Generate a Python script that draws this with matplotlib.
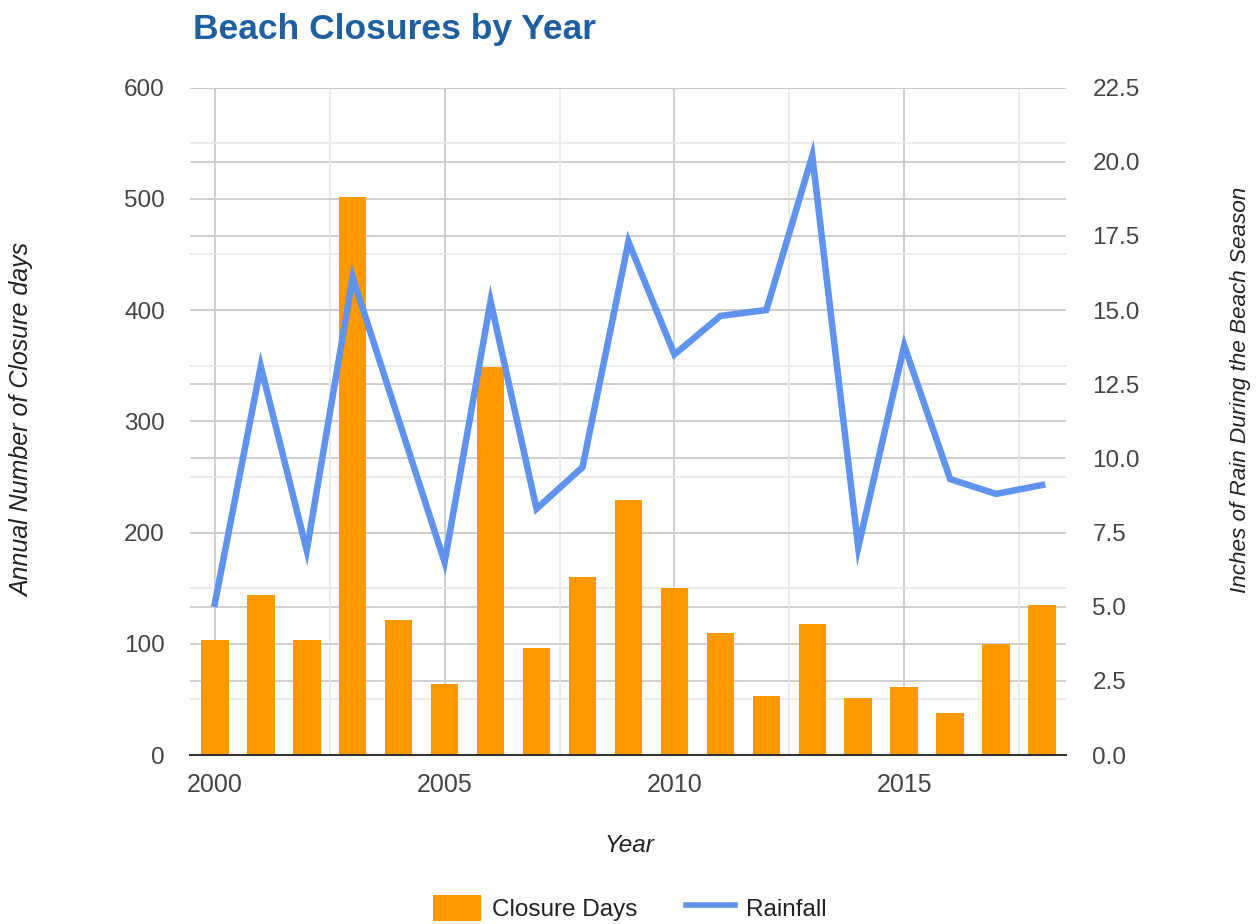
import matplotlib
matplotlib.use("Agg")
import matplotlib.pyplot as plt
from matplotlib.patches import Patch
from matplotlib.lines import Line2D
import numpy as np

years = list(range(2000, 2019))
closure_days = [103, 144, 103, 502, 121, 64, 349, 96, 160, 229,
                150, 110, 53, 118, 51, 61, 38, 100, 135]
rainfall = [5.1, 13.1, 6.9, 16.1, 11.3, 6.5, 15.3, 8.3, 9.7, 17.3,
            13.5, 14.8, 15.0, 20.2, 7.0, 13.8, 9.3, 8.8, 9.1]

left_ticks = list(range(0, 601, 100))
right_ticks = [0.0, 2.5, 5.0, 7.5, 10.0, 12.5, 15.0, 17.5, 20.0, 22.5]
year_ticks = [2000, 2005, 2010, 2015]

ORANGE = "#ff9900"
BLUE = "#5f93ee"
TICK_COL = "#444444"
LABEL_COL = "#222222"
FONT = "Liberation Sans"

plt.rcParams["font.family"] = [FONT, "DejaVu Sans"]

fig = plt.figure(figsize=(12.59, 9.24), dpi=100)
ax = fig.add_axes([0.1509, 0.1829, 0.6958, 0.7224])
ax2 = ax.twinx()

ax.set_xlim(1999.46, 2018.52)
ax.set_ylim(0, 600)
ax2.set_ylim(0, 22.5)

# gridlines (behind bars)
ax.set_yticks(left_ticks)
ax.set_yticks(np.arange(50, 600, 100), minor=True)
ax.set_xticks(year_ticks)
ax.set_xticks(np.arange(2002.5, 2018.5, 5), minor=True)
ax.grid(True, which="major", color="#cccccc", lw=1.3, zorder=0)
ax.grid(True, which="minor", color="#e9e9e9", lw=1.3, zorder=0)
for v in right_ticks[1:]:
    ax.axhline(v * 600 / 22.5, color="#cccccc", lw=1.3, zorder=0)
ax.set_axisbelow(True)

ax.bar(years, closure_days, width=0.6, color=ORANGE, zorder=2)
ax2.plot(years, rainfall, color=BLUE, lw=4.7, solid_joinstyle="miter", zorder=3)

for a in (ax, ax2):
    for s in a.spines.values():
        s.set_visible(False)
ax.spines["bottom"].set_visible(True)
ax.spines["bottom"].set_color("#333333")
ax.spines["bottom"].set_linewidth(1.5)
ax.spines["bottom"].set_zorder(4)
ax2.patch.set_visible(False)

ax.tick_params(axis="y", which="both", length=0, pad=18, labelsize=17.5, labelcolor=TICK_COL)
ax.tick_params(axis="x", which="both", length=0, pad=13, labelsize=18, labelcolor=TICK_COL)
ax2.set_yticks(right_ticks)
ax2.set_yticklabels([f"{v:.1f}" for v in right_ticks])
ax2.tick_params(axis="y", length=0, pad=19, labelsize=17.5, labelcolor=TICK_COL)

fig.text(0.0175, 0.545, "Annual Number of Closure days", rotation=90, ha="center", va="center",
         fontsize=18, style="italic", color=LABEL_COL)
fig.text(0.985, 0.578, "Inches of Rain During the Beach Season", rotation=90, ha="center",
         va="center", fontsize=16.2, style="italic", color=LABEL_COL)
fig.text(0.5, 1 - 845 / 924, "Year", ha="center", va="center", fontsize=17.5,
         style="italic", color=LABEL_COL)

fig.text(193 / 1259, 1 - 29 / 924, "Beach Closures by Year", ha="left", va="center",
         fontsize=25.5, fontweight="bold", color="#1f5f9f")

handles = [Patch(facecolor=ORANGE, edgecolor="none"),
           Line2D([0], [0], color=BLUE, lw=4)]
fig.legend(handles, ["Closure Days", "Rainfall"], loc="center",
           bbox_to_anchor=(0.5, 1 - 908 / 924), ncol=2, frameon=False,
           fontsize=17.5, handlelength=2.0, handleheight=1.3, columnspacing=2.0,
           handletextpad=0.45, labelcolor=LABEL_COL)

fig.savefig("out.png", dpi=100)
